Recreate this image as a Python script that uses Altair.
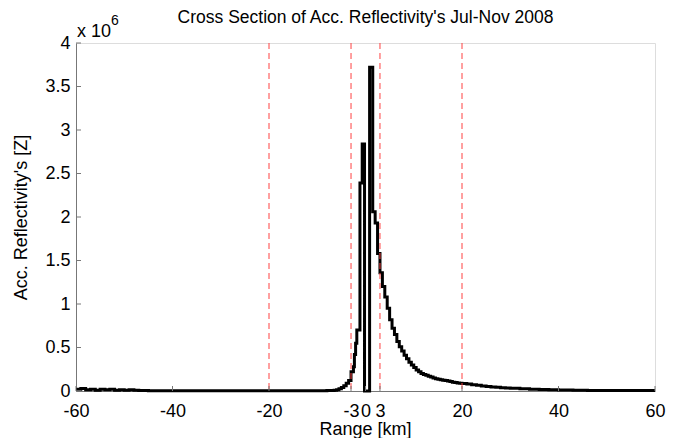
import altair as alt
import pandas as pd

# Range bin starts [km] and accumulated reflectivity [x 10^6 Z]
range_km = [-60, -59, -58, -57, -56, -55, -54, -53, -52, -51, -50, -49, -48, -47,
            -45, -40, -30, -20, -10, -8, -7, -6.5, -6, -5.5, -5, -4.5, -4, -3.5,
            -3, -2.5, -2.3, -2.05, -1.8, -1.15, -0.68, -0.2, 0.85, 1.5, 2, 2.5,
            3, 3.5, 4, 4.5, 5, 5.5, 6, 6.5, 7, 7.5, 8, 8.5, 9, 9.5, 10, 10.5, 11,
            11.5, 12, 12.5, 13, 13.5, 14, 14.5, 15, 15.5, 16, 16.5, 17, 17.5, 18,
            18.5, 19, 19.5, 20, 21, 22, 23, 24, 25, 26, 27, 28, 29, 30, 32, 34,
            36, 38, 40, 43, 46, 50, 55, 60]
refl = [0.02, 0.03, 0.015, 0.02, 0.01, 0.02, 0.015, 0.02, 0.01, 0.015, 0.01,
        0.015, 0.01, 0.005, 0.004, 0.003, 0.003, 0.003, 0.004, 0.005, 0.007,
        0.01, 0.015, 0.025, 0.04, 0.06, 0.09, 0.12, 0.22, 0.28, 0.42, 0.55,
        0.70, 2.39, 2.84, 0.0, 3.72, 2.06, 1.93, 1.58, 1.36, 1.20, 1.08, 0.95,
        0.82, 0.72, 0.65, 0.57, 0.51, 0.46, 0.41, 0.37, 0.33, 0.30, 0.27, 0.24,
        0.22, 0.20, 0.19, 0.18, 0.17, 0.16, 0.15, 0.14, 0.135, 0.13, 0.125,
        0.12, 0.115, 0.11, 0.10, 0.097, 0.093, 0.09, 0.087, 0.08, 0.072, 0.065,
        0.058, 0.052, 0.047, 0.042, 0.038, 0.034, 0.031, 0.025, 0.02, 0.017,
        0.014, 0.012, 0.009, 0.007, 0.006, 0.005, 0.005]

marker_km = [-20, -3, 3, 20]
x_ticks = [-60, -40, -20, -3, 0, 3, 20, 40, 60]
y_ticks = [0, 0.5, 1, 1.5, 2, 2.5, 3, 3.5, 4]
title_text = "Cross Section of Acc. Reflectivity's Jul-Nov 2008"
x_title = "Range [km]"
y_title = "Acc. Reflectivity's [Z]"

W, H = 579, 348
FONT = "Liberation Sans"
AXC = "#777777"

df = pd.DataFrame({"range": range_km, "refl": refl})
xscale = alt.Scale(domain=[-60, 60], nice=False, zero=False)
yscale = alt.Scale(domain=[0, 4], nice=False)

xaxis = alt.Axis(values=x_ticks, title=None, labelExpr="'' + datum.value",
                 labelOverlap=False, labelFlush=False, grid=False, ticks=False, tickSize=0,
                 domainColor=AXC, labelFontSize=18, labelFont=FONT, labelColor="black",
                 labelPadding=11)
yaxis = alt.Axis(values=y_ticks, title=y_title, labelExpr="'' + datum.value",
                 labelOverlap=False, labelFlush=False, grid=False, ticks=False, tickSize=0,
                 domainColor=AXC, labelFontSize=18, titleFontSize=18, labelFont=FONT,
                 titleFont=FONT, titleFontWeight="normal", labelColor="black",
                 titleColor="black", labelPadding=6, titlePadding=14)

line = alt.Chart(df).mark_line(color="black", strokeWidth=3, interpolate="step-after").encode(
    x=alt.X("range:Q", scale=xscale, axis=xaxis),
    y=alt.Y("refl:Q", scale=yscale, axis=yaxis),
)

rules = alt.Chart(pd.DataFrame({"range": marker_km})).mark_rule(
    color="#ff4040", strokeWidth=1, strokeDash=[6, 4]
).encode(x=alt.X("range:Q", scale=xscale, axis=xaxis), y=alt.value(0), y2=alt.value(H))

xt = alt.Chart(pd.DataFrame({"range": x_ticks})).mark_rule(color=AXC, strokeWidth=1).encode(
    x=alt.X("range:Q", scale=xscale, axis=xaxis), y=alt.value(H), y2=alt.value(H - 5))
yt = alt.Chart(pd.DataFrame({"refl": y_ticks})).mark_rule(color=AXC, strokeWidth=1).encode(
    y=alt.Y("refl:Q", scale=yscale, axis=yaxis), x=alt.value(0), x2=alt.value(5))


def label(text, x, y, size=18, align="left"):
    return alt.Chart(pd.DataFrame({"t": [text]})).mark_text(
        align=align, baseline="alphabetic", fontSize=size, font=FONT, color="black"
    ).encode(x=alt.value(x), y=alt.value(y), text="t:N")


title = label(title_text, W / 2, -20, size=17.5, align="center")
xtitle = label(x_title, W / 2, H + 44, align="center")
exp1 = label("x 10", 1, -6)
exp2 = label("6", 35, -18, size=14)

chart = alt.layer(line, rules, xt, yt, exp1, exp2, title, xtitle).properties(
    width=W, height=H,
    padding={"left": 68, "top": 35, "right": 12, "bottom": 47},
    autosize=alt.AutoSizeParams(type="none"),
).configure_view(stroke=None).configure(background="white")

chart.save("out.html", embed_options={"renderer": "svg", "actions": False})
